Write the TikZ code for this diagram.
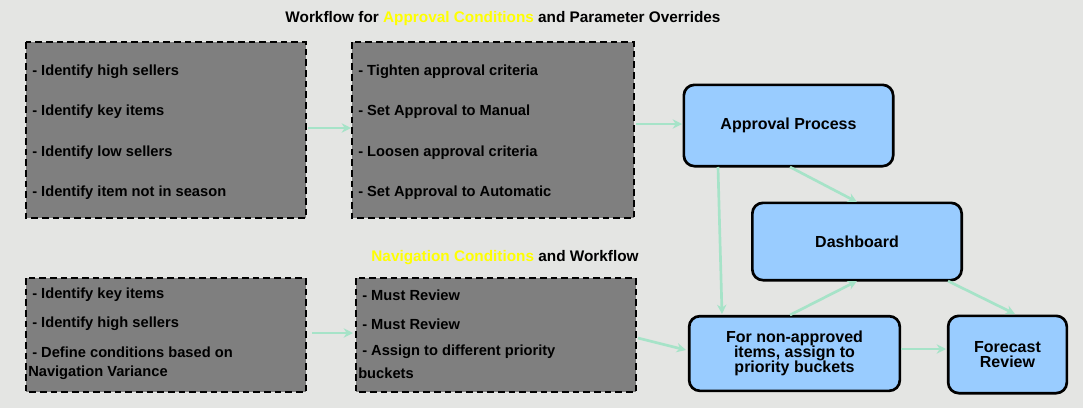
\documentclass[tikz,border=0pt]{standalone}
\usepackage{fontspec}
\setmainfont{Liberation Sans}
\usetikzlibrary{arrows.meta,calc}
\definecolor{bg}{HTML}{E4E5E3}
\definecolor{gbox}{HTML}{7F7F7F}
\definecolor{bbox}{HTML}{99CCFF}
\definecolor{arr}{HTML}{A6E3C8}
\definecolor{yel}{HTML}{FFFF00}
\begin{document}
\begin{tikzpicture}[x=0.75pt,y=-0.75pt,
  gray box/.style={draw=black,fill=gbox,line width=1.8pt,dash pattern=on 5pt off 3pt},
  blue box/.style={draw=black,fill=bbox,line width=2pt,rounded corners=8pt,font=\bfseries\fontsize{12}{13}\selectfont,align=center},
  item/.style={anchor=west,font=\bfseries\fontsize{11}{12}\selectfont,inner sep=0},
  title/.style={font=\bfseries\fontsize{11.5}{13}\selectfont},
  flow/.style={draw=arr,line width=2pt,-{Stealth[length=7pt,width=7pt]}}]
\fill[bg] (0,0) rectangle (1083,408);
\useasboundingbox (0,0) rectangle (1083,408);
\node[title] (t1) at (503,19) {Workflow for \textcolor{yel}{Approval Conditions} and Parameter Overrides};
\node[title] (t2) at (505,258) {\textcolor{yel}{Navigation Conditions} and Workflow};
% gray boxes
\draw[gray box] (26,42) rectangle (306,218);
\node[item] (a1) at (32,72) {- Identify high sellers};
\node[item] (a2) at (32,112) {- Identify key items};
\node[item] (a3) at (32,153) {- Identify low sellers};
\node[item] (a4) at (32,193) {- Identify item not in season};
\draw[gray box] (352,42) rectangle (634,218);
\node[item] (c1) at (358,72) {- Tighten approval criteria};
\node[item] (c2) at (358,112) {- Set Approval to Manual};
\node[item] (c3) at (358,153) {- Loosen approval criteria};
\node[item] (c4) at (358,193) {- Set Approval to Automatic};
\draw[gray box] (26,278) rectangle (306,392);
\node[item] (d1) at (32,295) {- Identify key items};
\node[item] (d2) at (32,324) {- Identify high sellers};
\node[item] (d3) at (32,352) {- Define conditions based on};
\node[item] (d4) at (28,373) {Navigation Variance};
\draw[gray box] (356,278) rectangle (636,392);
\node[item] (e1) at (362,295) {- Must Review};
\node[item] (e2) at (362,324) {- Must Review};
\node[item] (e3) at (362,352) {- Assign to different priority};
\node[item] (e4) at (358,373) {buckets};
% blue boxes
\node[blue box,minimum width=157pt,minimum height=61pt] (ap) at (788.5,125.5) {Approval Process};
\node[blue box,minimum width=157pt,minimum height=58pt] (db) at (857,241.5) {Dashboard};
\node[blue box,minimum width=158pt,minimum height=56pt] (na) at (794.5,353.5) {For non-approved\\[-2pt]items, assign to\\[-2pt]priority buckets};
\node[blue box,minimum width=89pt,minimum height=58pt] (fr) at (1007.5,354.5) {Forecast\\[-2pt]Review};
% connector end points
\coordinate (g1r) at (308,128); \coordinate (g2l) at (351,128);
\coordinate (g2r) at (636,124); \coordinate (apl) at (682,124);
\coordinate (g3r) at (312,333); \coordinate (g4l) at (353,333);
\coordinate (g4r) at (638,338); \coordinate (nal) at (686,350);
\coordinate (aps1) at (790,167); \coordinate (dbn) at (857,202);
\coordinate (aps2) at (718,167); \coordinate (nan1) at (722,314);
\coordinate (nan2) at (790,315); \coordinate (dbs1) at (857,281);
\coordinate (dbs2) at (948,281); \coordinate (frn) at (1015,314);
\coordinate (nar) at (901,349); \coordinate (frl) at (946,349);
\draw[flow] (g1r) -- (g2l);
\draw[flow] (g2r) -- (apl);
\draw[flow] (g3r) -- (g4l);
\draw[flow] (g4r) -- (nal);
\draw[flow] (aps1) -- (dbn);
\draw[flow] (aps2) -- (nan1);
\draw[flow] (nan2) -- (dbs1);
\draw[flow] (dbs2) -- (frn);
\draw[flow] (nar) -- (frl);
\end{tikzpicture}
\end{document}
